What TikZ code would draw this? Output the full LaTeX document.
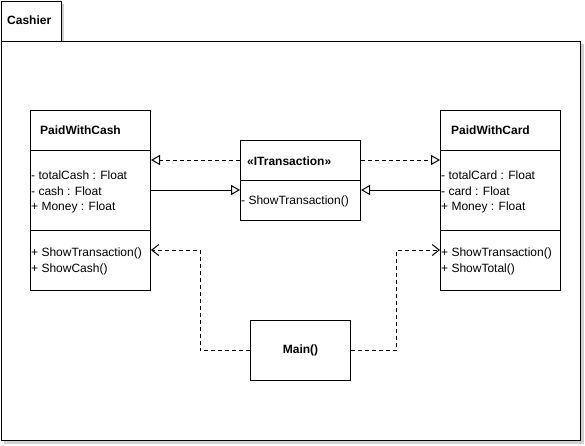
\documentclass[tikz,border=0pt]{standalone}
\usepackage{fontspec}
\setmainfont{Liberation Sans}
\usetikzlibrary{arrows.meta}
\definecolor{shadowgray}{HTML}{D0D0D0}
\begin{document}
\begin{tikzpicture}[x=1pt,y=-1pt,
  box/.style={draw=black,line width=1pt,fill=white,rectangle,inner sep=0pt,anchor=north west},
  shade/.style={fill=shadowgray,draw=none},
  txt/.style={font=\fontsize{12}{14}\selectfont,inner sep=0pt,anchor=west},
  btxt/.style={font=\fontsize{12}{14}\selectfont\bfseries,inner sep=0pt,anchor=west},
  divider/.style={draw=black,line width=1pt},
  realize/.style={draw=black,line width=1pt,dash pattern=on 4pt off 3pt,-{Triangle[open,length=9pt,width=10pt,fill=white]}},
  general/.style={draw=black,line width=1pt,-{Triangle[open,length=9pt,width=10pt,fill=white]}},
  depend/.style={draw=black,line width=1pt,dash pattern=on 4pt off 3pt,-{Straight Barb[length=7pt,width=11pt]}}
]
\useasboundingbox (0,0) rectangle (585,445);

% shadows
\fill[shade] (3.5,3.5) rectangle (63.5,40.5);
\fill[shade] (3.5,43.5) rectangle (583.5,443.5);
\fill[shade] (33,113) rectangle (153,293);
\fill[shade] (243,143) rectangle (363,223);
\fill[shade] (443,113) rectangle (563,293);
\fill[shade] (253,323) rectangle (353,383);

% package frame
\node[box,minimum width=60pt,minimum height=40pt] (tab) at (0.5,0.5) {};
\node[box,minimum width=579.5pt,minimum height=399.5pt] (frame) at (0.5,40.5) {};
\node[btxt] (tablbl) at (7,20) {Cashier};

% PaidWithCash
\node[box,minimum width=120pt,minimum height=180pt] (cash) at (30,110) {};
\draw[divider] (30,150) -- (150,150);
\draw[divider] (30,230) -- (150,230);
\node[btxt] (cashT) at (40,130) {PaidWithCash};
\node[txt] (cashA1) at (31,175) {- totalCash : Float};
\node[txt] (cashA2) at (31,191) {- cash : Float};
\node[txt] (cashA3) at (31,207) {+ Money : Float};
\node[txt] (cashM1) at (31,253) {+ ShowTransaction()};
\node[txt] (cashM2) at (31,269) {+ ShowCash()};

% ITransaction
\node[box,minimum width=120pt,minimum height=80pt] (itr) at (240,140) {};
\draw[divider] (240,180) -- (360,180);
\node[btxt] (itrT) at (247,161) {«ITransaction»};
\node[txt] (itrM1) at (241,201) {- ShowTransaction()};

% PaidWithCard
\node[box,minimum width=120pt,minimum height=180pt] (card) at (440,110) {};
\draw[divider] (440,150) -- (560,150);
\draw[divider] (440,230) -- (560,230);
\node[btxt] (cardT) at (451,130) {PaidWithCard};
\node[txt] (cardA1) at (441,175) {- totalCard : Float};
\node[txt] (cardA2) at (441,191) {- card : Float};
\node[txt] (cardA3) at (441,207) {+ Money : Float};
\node[txt] (cardM1) at (441,253) {+ ShowTransaction()};
\node[txt] (cardM2) at (441,269) {+ ShowTotal()};

% Main
\node[box,minimum width=100pt,minimum height=60pt] (main) at (250,320) {};
\node[btxt,anchor=center] (mainT) at (main.center) {Main()};

% connectors
\coordinate (yA) at (0,160);
\coordinate (yB) at (0,190);
\coordinate (yC) at (0,250);
\coordinate (lbend) at (200,250);
\coordinate (rbend) at (396,250);

\draw[realize] (itr.west |- yA) -- (cash.east |- yA);
\draw[general] (cash.east |- yB) -- (itr.west |- yB);
\draw[realize] (itr.east |- yA) -- (card.west |- yA);
\draw[general] (card.west |- yB) -- (itr.east |- yB);
\draw[depend] (main.west) -| (lbend) -- (cash.east |- yC);
\draw[depend] (main.east) -| (rbend) -- (card.west |- yC);
\end{tikzpicture}
\end{document}
